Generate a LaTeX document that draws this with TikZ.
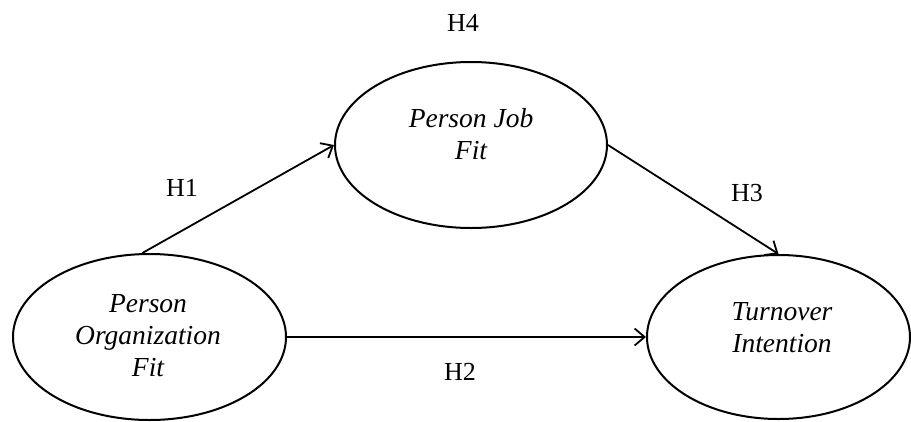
\documentclass[tikz,border=0pt]{standalone}
\usepackage{fontspec}
\setmainfont{Liberation Serif}
\usetikzlibrary{shapes.geometric,arrows.meta}
\tikzset{
  construct/.style={draw=black, line width=2pt, ellipse, inner sep=0pt},
  ctext/.style={font=\fontsize{27.5}{32}\selectfont\itshape, align=center, inner sep=0pt},
  hlabel/.style={font=\fontsize{26}{32}\selectfont, inner sep=0pt},
  path/.style={draw=black, line width=1.8pt, -{Straight Barb[length=10pt,width=17pt,line width=1.8pt]}}
}
\begin{document}
\begin{tikzpicture}[x=1pt,y=-1pt]
\useasboundingbox (0,0) rectangle (911,421);
\node[construct, minimum width=272pt, minimum height=166pt] (pjf) at (471,145) {};
\node[construct, minimum width=273pt, minimum height=166pt] (pof) at (149.5,337) {};
\node[construct, minimum width=263pt, minimum height=164pt] (ti) at (778.5,337) {};
\node[ctext] (pjft) at (471,134) {Person Job\\Fit};
\node[ctext] (poft) at (148,336) {Person\\Organization\\Fit};
\node[ctext] (tit) at (782,328) {Turnover\\Intention};
\draw[path] (pof.95) -- (pjf.west);
\draw[path] (pjf.east) -- (ti.north);
\draw[path] (pof.east) -- (ti.west);
\node[hlabel] (h4) at (463,23) {H4};
\node[hlabel] (h1) at (182,188) {H1};
\node[hlabel] (h3) at (747,193) {H3};
\node[hlabel] (h2) at (460,372) {H2};
\end{tikzpicture}
\end{document}
